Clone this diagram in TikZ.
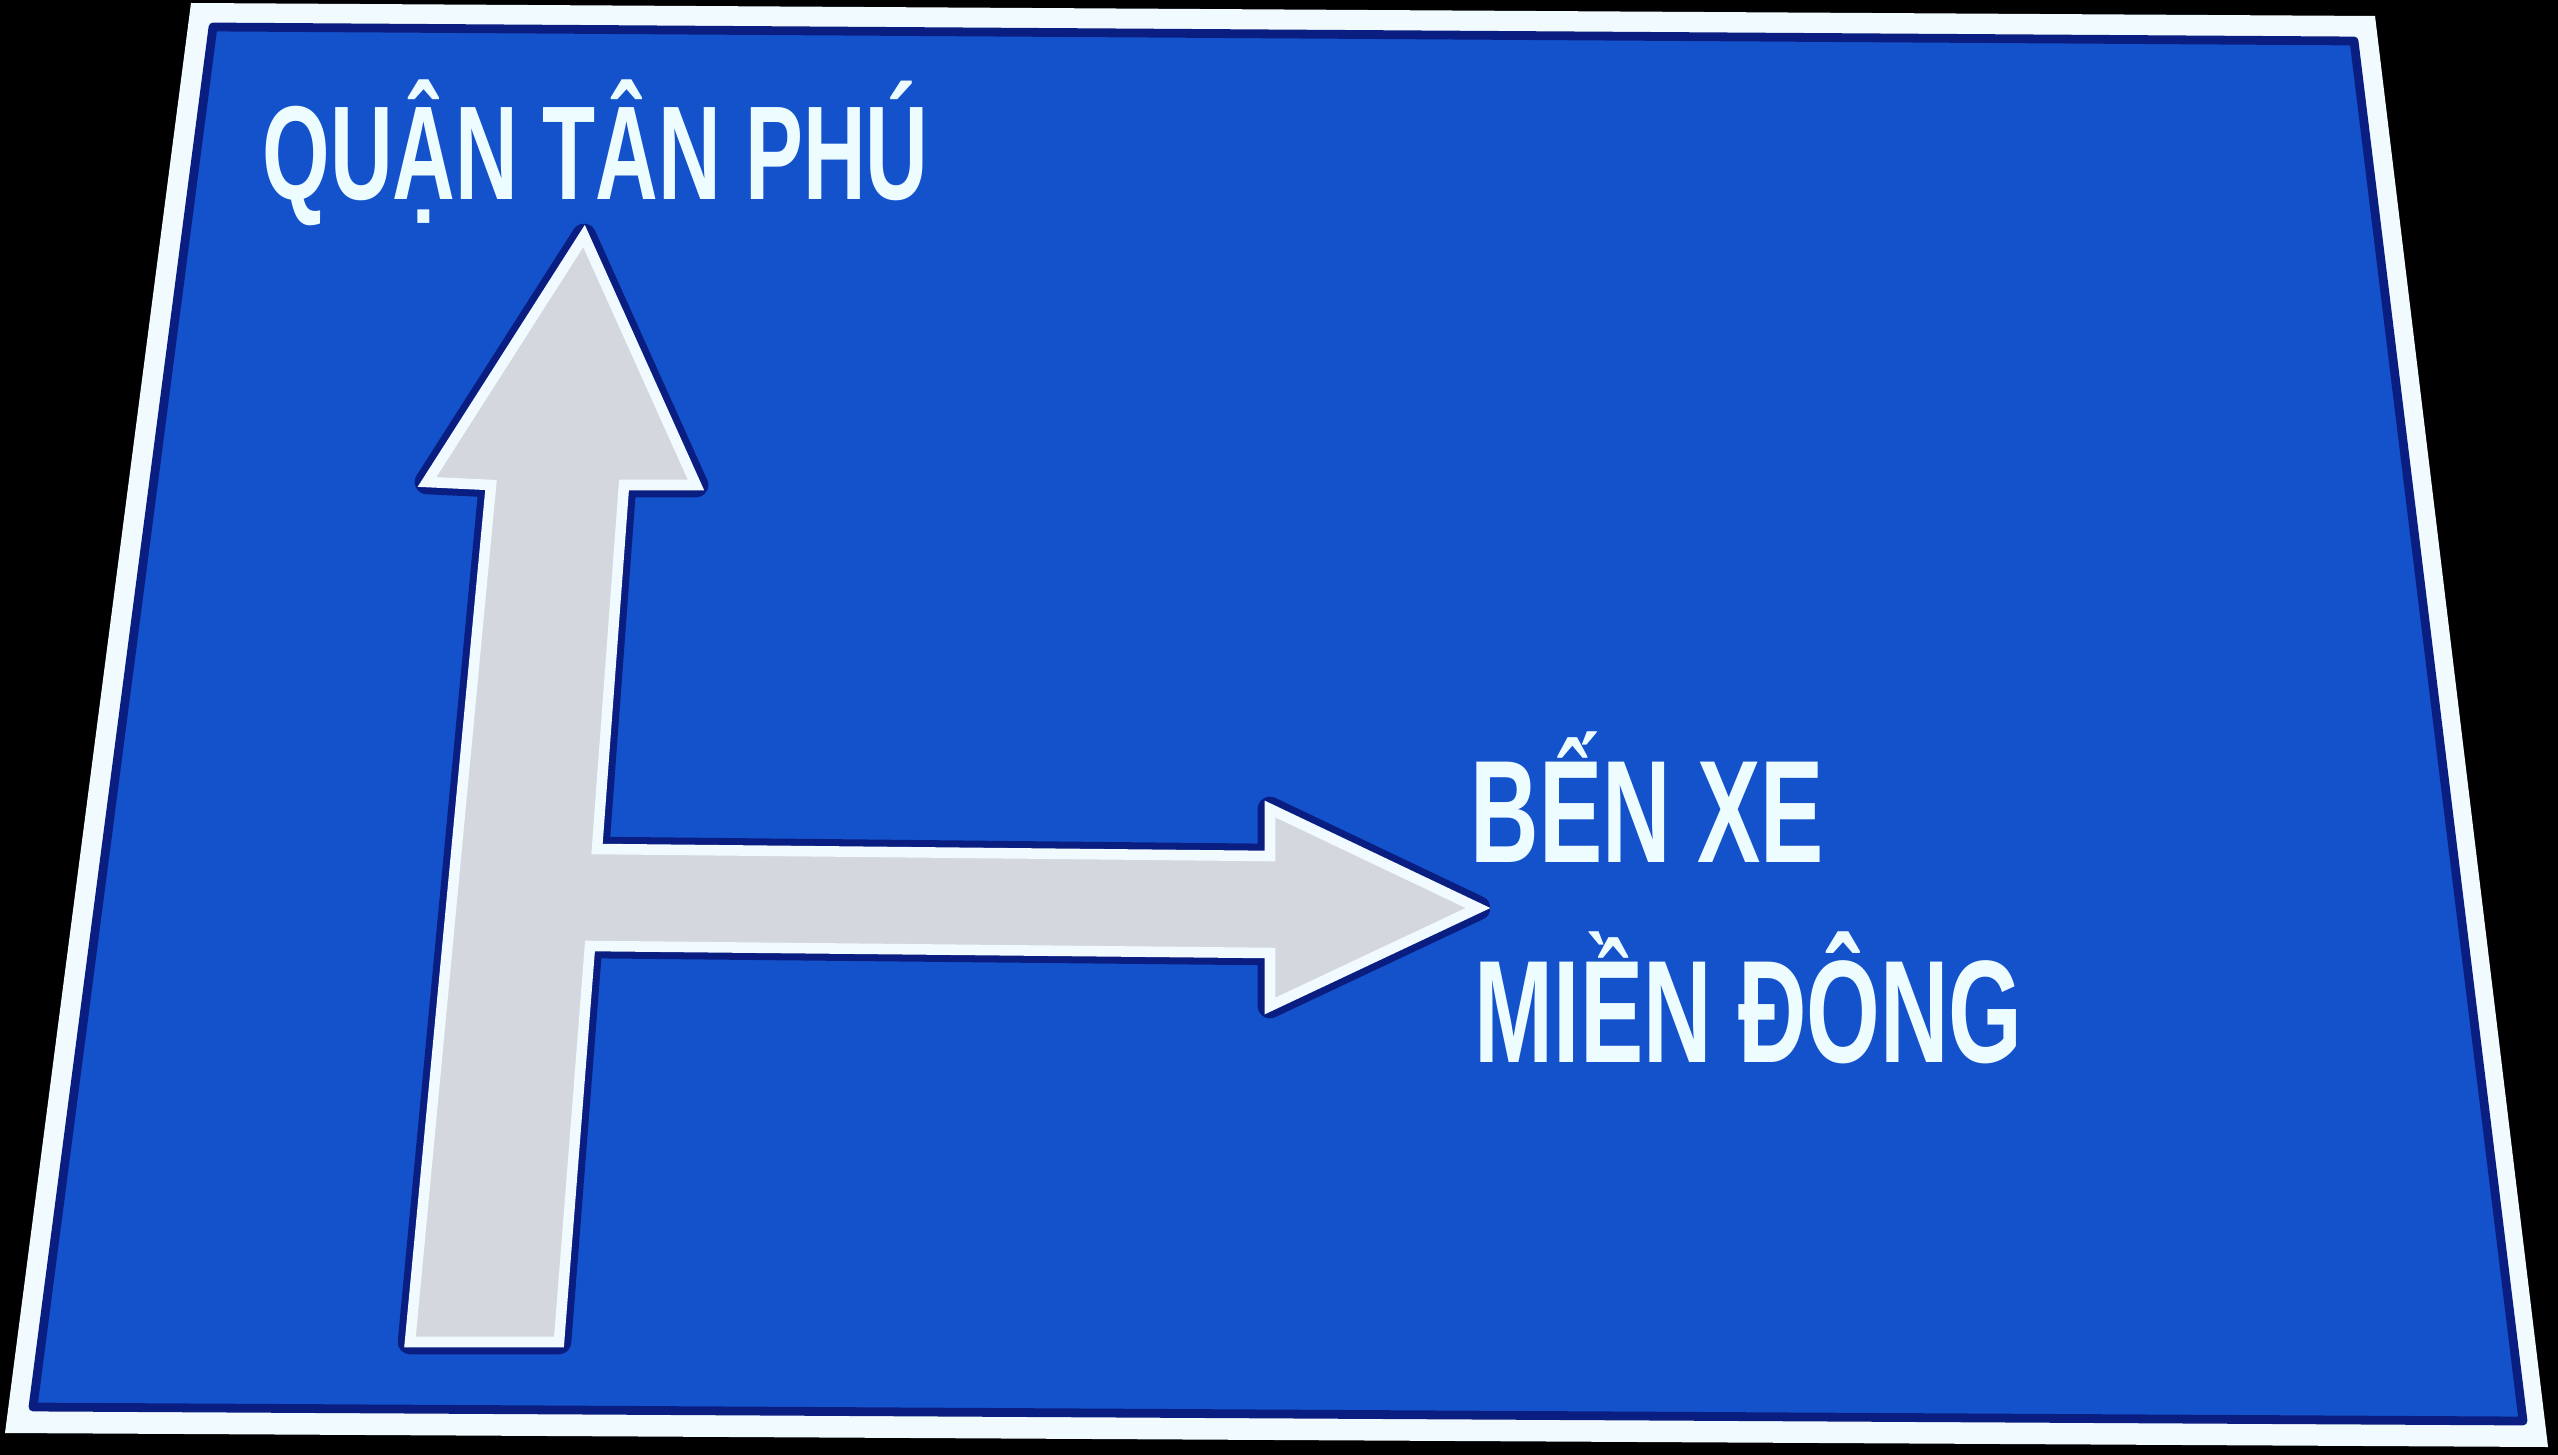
\documentclass[tikz,border=0pt]{standalone}
\usepackage{fontspec}
\newfontfamily\signfont[FakeStretch=0.65]{Liberation Sans}

\definecolor{signblue}{RGB}{20,82,204}
\definecolor{signdark}{RGB}{10,30,130}
\definecolor{arrowgray}{RGB}{212,216,222}
\definecolor{framewhite}{RGB}{240,250,255}
\definecolor{textwhite}{RGB}{236,252,255}

\tikzset{
    signtext/.style = { text=textwhite, inner sep=0pt, font=\signfont\bfseries },
}

\begin{document}
\begin{tikzpicture}[x=0.01cm, y=-0.01cm]
        % фон
        \path [fill=black] ( 0, 0 ) rectangle ( 2558, 1455 );

        % рамка
        \path [fill=framewhite] ( 191, 3 ) -- ( 2375, 16 ) -- ( 2548, 1447 ) -- ( 5, 1433 ) -- cycle;
        \draw [fill=signblue, draw=signdark, line width=2.5pt, line join=round]
            ( 213, 27 ) -- ( 2354, 41 ) -- ( 2523, 1421 ) -- ( 33, 1407 ) -- cycle;

        % стрелка
        \draw [fill=arrowgray, draw=framewhite, line width=3pt,
               preaction={draw=signdark, line width=7pt, line join=round}]
            ( 584, 236 ) -- ( 696, 485 ) -- ( 624, 485 ) -- ( 597, 849 )
            -- ( 1270, 856 ) -- ( 1270, 809 ) -- ( 1478, 908 ) -- ( 1270, 1006 )
            -- ( 1270, 953 ) -- ( 590, 946 ) -- ( 559, 1342 ) -- ( 410, 1342 )
            -- ( 491, 485 ) -- ( 427, 482 ) -- cycle;

        % надписи
        \node [signtext, font=\signfont\bfseries\fontsize{38}{40}\selectfont, anchor=base west]
            (tanphu) at ( 262, 200 ) {QUẬN TÂN PHÚ};
        \node [signtext, font=\signfont\bfseries\fontsize{41.5}{44}\selectfont, anchor=base west]
            (benxe) at ( 1470, 862 ) {BẾN XE};
        \node [signtext, font=\signfont\bfseries\fontsize{41.5}{44}\selectfont, anchor=base west]
            (miendong) at ( 1474, 1062 ) {MIỀN ĐÔNG};
    \end{tikzpicture}
\end{document}
